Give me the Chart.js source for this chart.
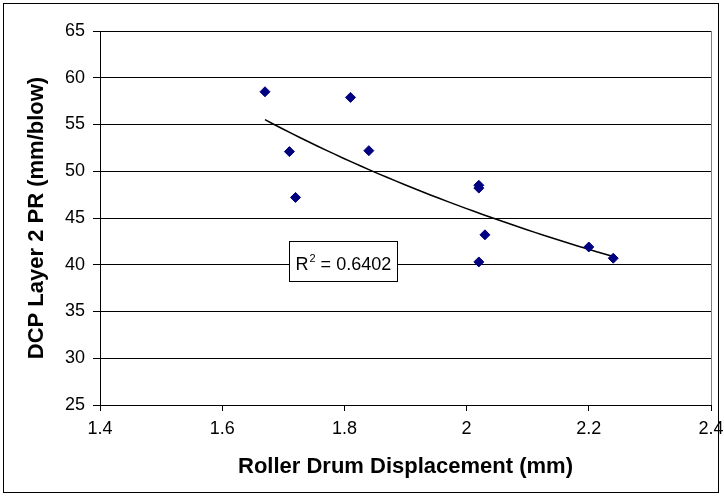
<!DOCTYPE html>
<html>
<head>
<meta charset="utf-8">
<script src="https://cdn.jsdelivr.net/npm/chart.js@4"></script>
<style>
  html, body { margin: 0; padding: 0; background: #fff; }
  #wrap { position: relative; width: 724px; height: 497px; }
  #frame { position: absolute; left: 3px; top: 3px; width: 716px; height: 490px; border: 1px solid #000; box-sizing: border-box; pointer-events: none; }
</style>
</head>
<body>
<div id="wrap">
  <canvas id="myChart" width="724" height="497"></canvas>
  <div id="frame"></div>
</div>
<script>
// measured points
const displacement = [1.67, 1.81, 1.71, 1.84, 1.72, 2.02, 2.02, 2.03, 2.02, 2.20, 2.24];
const penetration  = [58.5, 57.9, 52.1, 52.2, 47.2, 48.5, 48.2, 43.2, 40.3, 41.9, 40.7];

const xTicks = [1.4, 1.6, 1.8, 2, 2.2, 2.4];
const yTicks = [25, 30, 35, 40, 45, 50, 55, 60, 65];
const rSquared = '0.6402';

const FONT = '"Liberation Sans", Arial, sans-serif';

// power trendline fitted from the points (like the spreadsheet does)
function powerFit(xs, ys) {
  const n = xs.length;
  let sx = 0, sy = 0, sxx = 0, sxy = 0;
  for (let i = 0; i < n; i++) {
    const lx = Math.log(xs[i]);
    const ly = Math.log(ys[i]);
    sx += lx; sy += ly; sxx += lx * lx; sxy += lx * ly;
  }
  const b = (n * sxy - sx * sy) / (n * sxx - sx * sx);
  const a = Math.exp((sy - b * sx) / n);
  return { a, b };
}

const fit = powerFit(displacement, penetration);
const minX = Math.min(...displacement);
const maxX = Math.max(...displacement);
const trend = [];
for (let i = 0; i <= 40; i++) {
  const x = minX + (maxX - minX) * i / 40;
  trend.push({ x: x, y: fit.a * Math.pow(x, fit.b) });
}

const points = displacement.map((x, i) => ({ x: x, y: penetration[i] }));

const extras = {
  id: 'extras',
  afterDraw(chart) {
    const ctx = chart.ctx;
    const a = chart.chartArea;
    const xs = chart.scales.x;
    const ys = chart.scales.y;
    ctx.save();
    // gray plot border on the right
    ctx.strokeStyle = '#808080';
    ctx.lineWidth = 1;
    ctx.beginPath();
    ctx.moveTo(Math.round(a.right) + 0.5, a.top);
    ctx.lineTo(Math.round(a.right) + 0.5, a.bottom);
    ctx.stroke();
    // R² box
    const bx = Math.round(xs.getPixelForValue(1.709)) + 0.5;
    const by = Math.round(ys.getPixelForValue(42.5)) + 0.5;
    const bw = 108, bh = 40;
    ctx.fillStyle = '#fff';
    ctx.fillRect(bx, by, bw, bh);
    ctx.strokeStyle = '#000';
    ctx.strokeRect(bx, by, bw, bh);
    ctx.fillStyle = '#000';
    ctx.textBaseline = 'alphabetic';
    ctx.textAlign = 'left';
    let tx = bx + 6;
    const base = by + 28;
    ctx.font = '18px ' + FONT;
    ctx.fillText('R', tx, base);
    tx += ctx.measureText('R').width;
    ctx.font = '11px ' + FONT;
    ctx.fillText('2', tx + 1, base - 8);
    tx += ctx.measureText('2').width + 1;
    ctx.font = '18px ' + FONT;
    ctx.fillText(' = ' + rSquared, tx, base);
    ctx.restore();
  }
};

const ctx = document.getElementById('myChart').getContext('2d');
const myChart = new Chart(ctx, {
  type: 'scatter',
  data: {
    datasets: [{
      label: 'Layer 2',
      data: points,
      pointStyle: 'rectRot',
      pointRadius: 5,
      backgroundColor: '#000080',
      borderColor: '#000080',
      borderWidth: 1,
      order: 1
    }, {
      label: 'Trend',
      data: trend,
      type: 'line',
      showLine: true,
      pointRadius: 0,
      borderColor: '#000',
      borderWidth: 1.5,
      fill: false,
      order: 2
    }]
  },
  options: {
    responsive: false,
    animation: false,
    layout: { padding: { left: 0, top: 31, right: 13, bottom: 0 } },
    plugins: { legend: { display: false }, tooltip: { enabled: false } },
    scales: {
      x: {
        type: 'linear',
        min: 1.4,
        max: 2.4,
        afterBuildTicks(scale) { scale.ticks = xTicks.map(v => ({ value: v })); },
        afterFit(scale) {
          scale.height = 92;
          scale.paddingLeft = 0;
          scale.paddingRight = 0;
        },
        grid: { drawOnChartArea: false, color: '#000', tickLength: 6 },
        border: { color: '#000' },
        ticks: {
          color: '#000',
          padding: 7,
          maxRotation: 0,
          font: { family: FONT, size: 18 },
          callback: v => String(v)
        },
        title: {
          display: true,
          text: 'Roller Drum Displacement (mm)',
          color: '#000',
          font: { family: FONT, size: 22, weight: 'bold' },
          padding: { top: 0, bottom: 17 }
        }
      },
      y: {
        min: 25,
        max: 65,
        afterBuildTicks(scale) { scale.ticks = yTicks.map(v => ({ value: v })); },
        afterFit(scale) {
          scale.width = 100;
          scale.paddingTop = 0;
          scale.paddingBottom = 0;
        },
        grid: { color: '#000', tickLength: 7 },
        border: { color: '#000' },
        ticks: {
          color: '#000',
          padding: 8,
          font: { family: FONT, size: 18 }
        },
        title: {
          display: true,
          text: 'DCP Layer 2 PR (mm/blow)',
          color: '#000',
          font: { family: FONT, size: 22, weight: 'bold' },
          padding: { top: 24, bottom: 0 }
        }
      }
    }
  },
  plugins: [extras]
});
</script>
</body>
</html>
